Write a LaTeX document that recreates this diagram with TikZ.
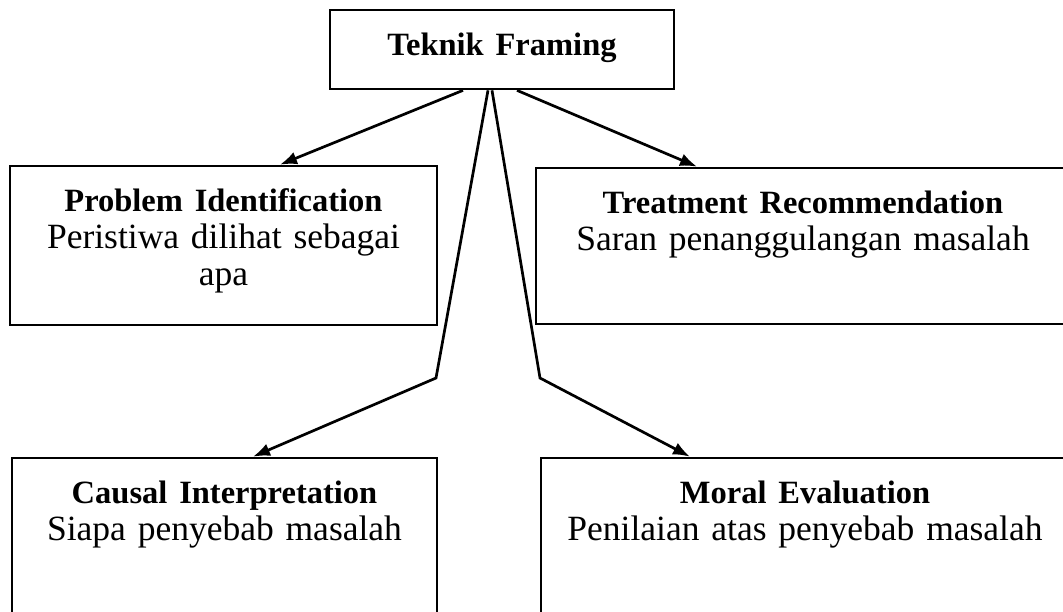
\documentclass[tikz,border=0pt]{standalone}
\usepackage{fontspec}
\setmainfont[WordSpace=0.7]{Liberation Serif}
\usetikzlibrary{arrows.meta}

\tikzset{
  kotak/.style={draw, line width=2.7pt, inner sep=0pt, align=center, text height=45pt, text depth=150pt, anchor=base, font=\fontsize{35.5}{37}\selectfont},
  panah/.style={line width=2.7pt, -{Latex[length=17pt,width=13pt]}}
}
\newcommand{\judul}[1]{{\fontsize{32.5}{37}\selectfont\bfseries #1}}

\begin{document}
\begin{tikzpicture}[x=1pt,y=-1pt]
        \useasboundingbox (0,0) rectangle (1063,611);
        \clip (0,0) rectangle (1063,611);
        \node[kotak, text width=344pt, text depth=34pt] (teknik) at (502,55) {\judul{Teknik Framing}};
        \node[kotak, text width=427pt, text depth=114pt] (problem) at (223.5,211) {\judul{Problem Identification}\\Peristiwa dilihat sebagai\\apa};
        \node[kotak, text width=534pt, text depth=111pt] (treatment) at (803,213) {\judul{Treatment Recommendation}\\Saran penanggulangan masalah};
        \node[kotak, text width=425pt] (causal) at (224.5,503) {\judul{Causal Interpretation}\\Siapa penyebab masalah};
        \node[kotak, text width=528pt] (moral) at (805,503) {\judul{Moral Evaluation}\\Penilaian atas penyebab masalah};
        \coordinate (belokKiri) at (436,378);
        \coordinate (belokKanan) at (540,378);
        \draw[panah] ([xshift=-39pt]teknik.south) -- ([xshift=56.5pt]problem.north);
        \draw[panah] ([xshift=15pt]teknik.south) -- ([xshift=-106pt]treatment.north);
        \draw[panah] ([xshift=-14pt]teknik.south) -- (belokKiri) -- ([xshift=28.5pt]causal.north);
        \draw[panah] ([xshift=-10pt]teknik.south) -- (belokKanan) -- ([xshift=-115pt]moral.north);
    \end{tikzpicture}
\end{document}
